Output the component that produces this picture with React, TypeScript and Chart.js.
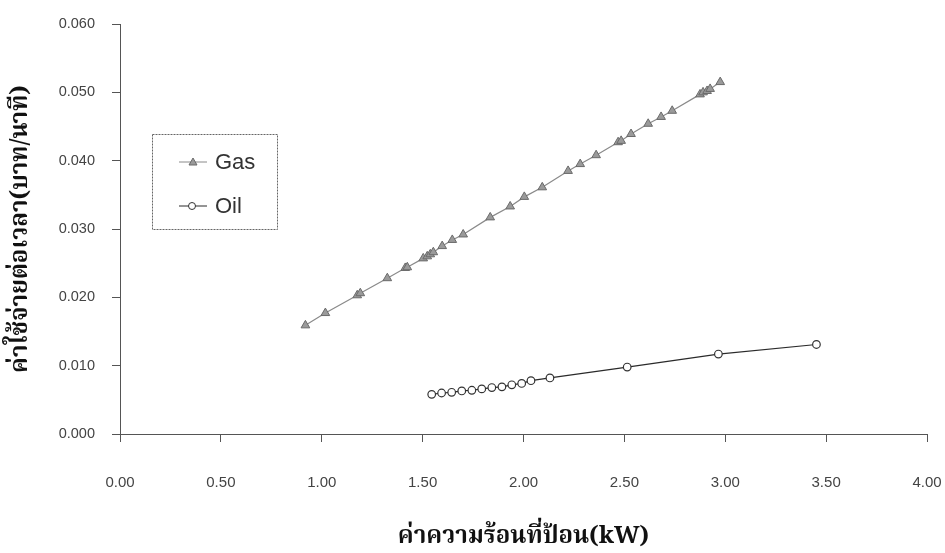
import React, { useEffect, useRef } from "react";
import { Chart, registerables } from "chart.js";
Chart.register(...registerables);

const gasX = [0.919, 1.018, 1.176, 1.191, 1.325, 1.414, 1.424, 1.503, 1.523, 1.538, 1.553, 1.597, 1.647, 1.701, 1.835, 1.934, 2.004, 2.093, 2.221, 2.281, 2.36, 2.469, 2.484, 2.533, 2.618, 2.682, 2.737, 2.875, 2.89, 2.91, 2.925, 2.975];
const gasY = [0.0159, 0.0177, 0.0203, 0.0206, 0.0228, 0.0243, 0.0244, 0.0257, 0.026, 0.0263, 0.0266, 0.0275, 0.0284, 0.0292, 0.0317, 0.0333, 0.0347, 0.0361, 0.0385, 0.0395, 0.0408, 0.0427, 0.0429, 0.0439, 0.0454, 0.0464, 0.0473, 0.0497, 0.05, 0.0502, 0.0505, 0.0515];

const oilX = [1.545, 1.594, 1.644, 1.694, 1.744, 1.793, 1.843, 1.893, 1.942, 1.991, 2.037, 2.131, 2.514, 2.966, 3.452];
const oilY = [0.0058, 0.006, 0.0061, 0.0063, 0.0064, 0.0066, 0.0068, 0.0069, 0.0072, 0.0074, 0.0078, 0.0082, 0.0098, 0.0117, 0.0131];

const seriesNames = ["Gas", "Oil"];
const xTitle = "ค่าความร้อนที่ป้อน(kW)";
const yTitle = "ค่าใช้จ่ายต่อเวลา(บาท/นาที)";
const xMin = 0, xMax = 4, xStep = 0.5;
const yMin = 0, yMax = 0.06, yStep = 0.01;

const THAI = "'Noto Serif Thai', 'Noto Sans Thai', 'TH Sarabun New', Garuda, Loma, 'Liberation Serif', serif";
const SANS = "'Liberation Sans', Arial, sans-serif";

const legendPlugin = {
  id: "boxLegend",
  afterDraw(chart: any) {
    const ctx = chart.ctx;
    ctx.save();
    ctx.strokeStyle = "#666";
    ctx.lineWidth = 1;
    ctx.setLineDash([2, 1]);
    ctx.strokeRect(152.5, 134.5, 125, 95);
    ctx.setLineDash([]);
    const rows = [
      { y: 162, ds: chart.data.datasets[0] },
      { y: 206, ds: chart.data.datasets[1] },
    ];
    rows.forEach((r) => {
      ctx.strokeStyle = r.ds.borderColor;
      ctx.lineWidth = 1;
      ctx.beginPath();
      ctx.moveTo(179, r.y);
      ctx.lineTo(207, r.y);
      ctx.stroke();
      ctx.fillStyle = r.ds.pointBackgroundColor;
      ctx.strokeStyle = r.ds.pointBorderColor;
      ctx.beginPath();
      if (r.ds.pointStyle === "triangle") {
        ctx.moveTo(193, r.y - 4);
        ctx.lineTo(197, r.y + 3);
        ctx.lineTo(189, r.y + 3);
        ctx.closePath();
      } else {
        ctx.arc(192, r.y, 3.5, 0, Math.PI * 2);
      }
      ctx.fill();
      ctx.stroke();
      ctx.fillStyle = "#333";
      ctx.font = "22px " + SANS;
      ctx.textAlign = "left";
      ctx.textBaseline = "middle";
      ctx.fillText(r.ds.label, 215, r.y + 1);
    });
    ctx.restore();
  },
};

export default function App() {
  const ref = useRef<HTMLCanvasElement>(null);
  useEffect(() => {
    const canvas = ref.current!;
    const chart = new Chart(canvas, {
      type: "scatter",
      data: {
        datasets: [
          {
            label: seriesNames[0],
            data: gasX.map((x, i) => ({ x, y: gasY[i] })),
            showLine: true,
            borderColor: "#8a8a8a",
            borderWidth: 1.2,
            pointStyle: "triangle",
            pointRadius: 5,
            pointBackgroundColor: "#9a9a9a",
            pointBorderColor: "#6a6a6a",
            pointBorderWidth: 1,
          } as any,
          {
            label: seriesNames[1],
            data: oilX.map((x, i) => ({ x, y: oilY[i] })),
            showLine: true,
            borderColor: "#2a2a2a",
            borderWidth: 1.2,
            pointStyle: "circle",
            pointRadius: 3.8,
            pointBackgroundColor: "#ffffff",
            pointBorderColor: "#333333",
            pointBorderWidth: 1.2,
          } as any,
        ],
      },
      options: {
        responsive: false,
        animation: false,
        devicePixelRatio: 1,
        layout: { padding: { top: 24, right: 18, left: 0, bottom: 0 } },
        plugins: { legend: { display: false }, tooltip: { enabled: false } },
        scales: {
          x: {
            type: "linear",
            min: xMin,
            max: xMax,
            afterFit: (s: any) => { s.height = 119; s.paddingLeft = 0; s.paddingRight = 0; },
            border: { display: true, color: "#555", width: 1 },
            grid: { drawOnChartArea: false, drawTicks: true, tickLength: 8, color: "#555" },
            ticks: {
              stepSize: xStep,
              padding: 32,
              color: "#444",
              font: { family: SANS, size: 15 },
              maxRotation: 0,
              callback: (v: any) => Number(v).toFixed(2),
            },
            title: {
              display: true,
              text: xTitle,
              color: "#111",
              font: { family: THAI, size: 24, weight: "bold" },
              padding: { top: 1, bottom: 0 },
            },
          },
          y: {
            type: "linear",
            min: yMin,
            max: yMax,
            afterFit: (s: any) => { s.width = 120; s.paddingTop = 0; s.paddingBottom = 0; },
            border: { display: true, color: "#555", width: 1 },
            grid: { drawOnChartArea: false, drawTicks: true, tickLength: 8, color: "#555" },
            ticks: {
              stepSize: yStep,
              padding: 17,
              color: "#444",
              font: { family: SANS, size: 14.5 },
              callback: (v: any) => Number(v).toFixed(3),
            },
            title: {
              display: true,
              text: yTitle,
              color: "#111",
              font: { family: THAI, size: 24, weight: "bold" },
              padding: { top: 9, bottom: 0 },
            },
          },
        },
      },
      plugins: [legendPlugin],
    });
    return () => chart.destroy();
  }, []);
  return (
    <div style={{ position: "fixed", left: 0, top: 0, width: 945, height: 553, background: "#fff" }}>
      <canvas ref={ref} width={945} height={553} style={{ display: "block" }} />
    </div>
  );
}
